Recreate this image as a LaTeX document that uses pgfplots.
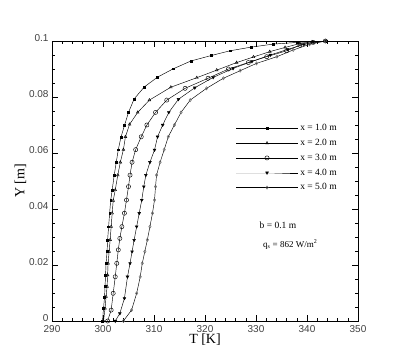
\documentclass[border=0pt]{standalone}
\usepackage{fontspec}
\setmainfont{Liberation Serif}
\setsansfont{Liberation Sans}
\usepackage{pgfplots}
\pgfplotsset{compat=1.18}

\begin{document}
\begin{tikzpicture}
\begin{axis}[
  at={(0,0)}, anchor=south west,
  scale only axis, width=306pt, height=280pt,
  xmin=290, xmax=350, ymin=0, ymax=0.1,
  xtick={290,300,...,350}, ytick={0,0.02,...,0.1},
  minor x tick num=4, minor y tick num=3,
  tick align=inside, major tick length=6pt, minor tick length=3pt,
  axis line style={line width=0.9pt}, tick style={black, line width=0.6pt},
  yticklabel style={/pgf/number format/fixed, /pgf/number format/precision=2, xshift=0pt, anchor=south east, yshift=-4pt},
  xticklabel style={yshift=-0.5pt},
  /pgf/number format/assume math mode=true,
  tick label style={font=\sffamily\fontsize{10}{10}\selectfont, text=black!75},
  xlabel={T [K]}, ylabel={Y [m]},
  label style={font=\fontsize{14}{14}\selectfont},
  xlabel style={yshift=5pt}, ylabel style={yshift=-4pt},
  legend style={draw=none, fill=none, at={(rel axis cs:0.60,0.71)}, anchor=north west,
    font=\fontsize{9.5}{9.5}\selectfont, row sep=3pt, inner sep=0pt},
  legend cell align=left,
  legend image code/.code={\draw[mark repeat=2, mark phase=2, #1] plot coordinates {(0pt,0pt) (31pt,0pt) (62pt,0pt)};},
  every axis plot/.append style={black, line width=0.45pt},
]
\addplot[mark=square*, mark size=0.9pt] coordinates {
(299.9,0) (300.1,0.0045) (300.3,0.0085) (300.4,0.0123) (300.5,0.0164) (300.6,0.0206) (300.8,0.0248) (300.9,0.0289) (301.1,0.0337) (301.3,0.0385) (301.5,0.043) (301.8,0.0468) (302.2,0.0521) (302.6,0.0567) (303.0,0.0612) (303.5,0.0655) (304.2,0.0698) (305.0,0.0745) (306.1,0.0793) (308.1,0.0836) (310.7,0.0871) (313.8,0.0901) (317.3,0.0929) (321.2,0.0948) (324.9,0.0965) (329.0,0.0978) (333.4,0.0989) (338.1,0.0995) (343.7,0.1)};
\addlegendentry{x = 1.0 m}
\addplot[mark=triangle, mark size=1.6pt, mark options={fill=white}] coordinates {
(300.1,0) (300.4,0.0045) (300.6,0.0087) (300.8,0.0123) (300.9,0.0164) (301.0,0.0206) (301.2,0.0248) (301.4,0.029) (301.6,0.0337) (301.8,0.0385) (302.0,0.043) (302.4,0.0468) (302.9,0.0521) (303.4,0.0567) (304.0,0.0612) (304.4,0.0658) (305.2,0.0702) (306.8,0.0745) (309.1,0.0789) (313.3,0.0835) (318.4,0.0869) (322.3,0.0896) (326.2,0.0923) (329.5,0.0943) (332.7,0.0962) (335.7,0.0977) (338.6,0.0991) (341.0,0.0997) (343.6,0.1)};
\addlegendentry{x = 2.0 m}
\addplot[mark=o, mark size=2.1pt, mark options={fill=white}] coordinates {
(300.9,0) (301.6,0.0039) (302.0,0.0099) (302.4,0.0158) (302.7,0.0206) (303.0,0.0254) (303.3,0.0295) (303.7,0.0337) (304.2,0.0385) (304.6,0.0432) (305.0,0.048) (305.3,0.0521) (305.7,0.0567) (306.4,0.0612) (307.5,0.0658) (308.6,0.07) (310.3,0.0745) (312.5,0.0789) (316.1,0.0831) (320.6,0.0867) (324.6,0.09) (328.5,0.0923) (332.1,0.0944) (336.0,0.0965) (338.6,0.0985) (341.2,0.0995) (343.6,0.1)};
\addlegendentry{x = 3.0 m}
\addplot[mark=triangle*, mark size=1.6pt, mark options={rotate=180}] coordinates {
(302.4,0) (303.3,0.0027) (304.2,0.0081) (304.8,0.0158) (305.3,0.0206) (305.7,0.0248) (306.1,0.0289) (306.6,0.0337) (307.1,0.0385) (307.6,0.0432) (308.0,0.048) (308.4,0.0521) (309.2,0.0567) (310.1,0.0611) (310.7,0.0658) (311.7,0.07) (312.9,0.0745) (314.8,0.0792) (318.0,0.0833) (321.6,0.087) (325.5,0.0902) (329.2,0.0927) (332.8,0.095) (336.2,0.097) (339.4,0.0988) (343.6,0.1)};
\addlegendentry{x = 4.0 m}
\addplot[mark=diamond, mark size=1.6pt, mark options={fill=white, draw=black!60}] coordinates {
(304.0,0) (305.6,0.0039) (306.6,0.0099) (307.3,0.0158) (307.7,0.0206) (308.2,0.0248) (308.7,0.029) (309.2,0.0337) (309.7,0.0385) (310.1,0.0432) (310.3,0.048) (310.5,0.0521) (311.2,0.0567) (312.0,0.0612) (312.8,0.0658) (314.0,0.07) (315.3,0.0745) (317.1,0.0789) (320.3,0.0831) (323.6,0.0867) (326.9,0.0894) (330.1,0.092) (334.1,0.0944) (337.3,0.0968) (340.5,0.0988) (343.6,0.1)};
\addlegendentry{x = 5.0 m}
\node[font=\fontsize{9.5}{9.5}\selectfont] at (axis cs:334.3,0.0343) {b = 0.1 m};
\node[font=\fontsize{9}{9}\selectfont] at (axis cs:336.7,0.0272) {q\textsubscript{s} = 862 W/m\textsuperscript{2}};
\end{axis}
\pgfresetboundingbox
\path[use as bounding box] (-52pt,-39pt) rectangle (351pt,321pt);
\end{tikzpicture}
\end{document}
